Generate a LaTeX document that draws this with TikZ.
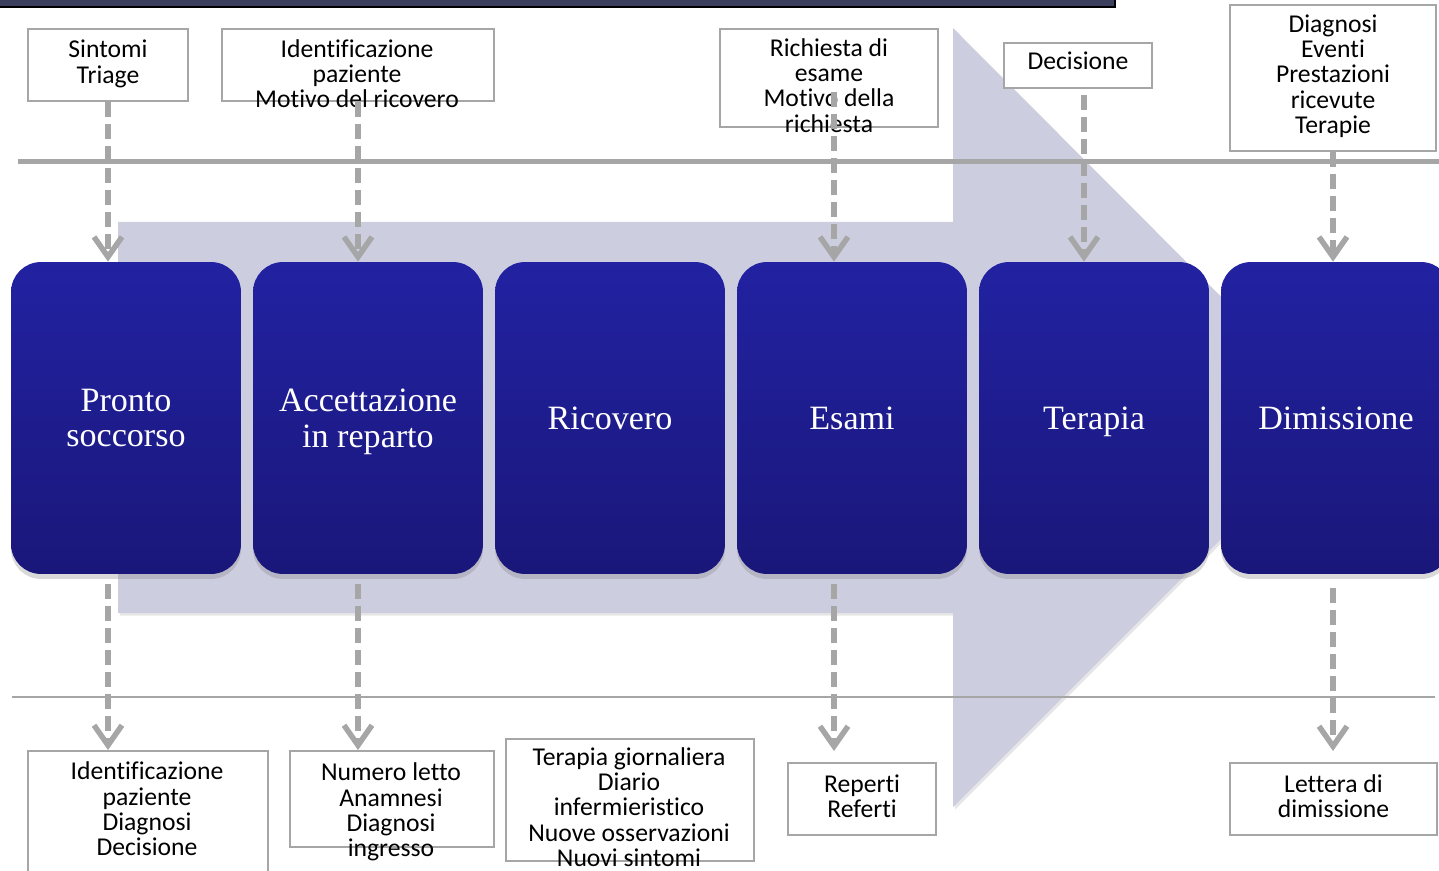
\documentclass[tikz,border=0pt]{standalone}
\usepackage{fontspec}
\usetikzlibrary{arrows.meta,shadows}
\newfontfamily\phasefont{Liberation Serif}
\newfontfamily\infofont[Ligatures={NoCommon,NoRare}]{Carlito}
\definecolor{bandgray}{RGB}{205,205,224}
\definecolor{phasetop}{RGB}{34,34,162}
\definecolor{phasebot}{RGB}{26,23,122}
\definecolor{linegray}{RGB}{166,166,166}
\definecolor{bardark}{RGB}{60,63,94}
\tikzstyle{phase}=[rounded corners=0.6cm, minimum width=4.6cm, minimum height=6.24cm, inner sep=0pt, top color=phasetop, bottom color=phasebot, text=white, align=center, font=\phasefont\fontsize{19.4}{20.2}\selectfont, drop shadow={shadow xshift=0cm, shadow yshift=-0.1cm, opacity=0.3}]
\tikzstyle{info}=[draw=linegray, line width=0.04cm, fill=white, inner sep=0pt]
\tikzstyle{infotext}=[align=center, inner sep=0pt, font=\infofont\fontsize{14.6}{14.4}\selectfont]
\tikzstyle{flow}=[draw=linegray, line width=0.11cm, dash pattern=on 0.3cm off 0.14cm, -{Straight Barb[length=0.4cm,width=0.56cm]}]
\begin{document}
\begin{tikzpicture}[x=0.02cm,y=-0.02cm]
\useasboundingbox (0,0) rectangle (1439,871);
\clip (0,0) rectangle (1439,871);
\fill[bardark, draw=black, line width=0.05cm] (-10,-10) rectangle (1115,7);
\path[fill=bandgray, drop shadow={shadow xshift=0.04cm, shadow yshift=-0.05cm, opacity=0.2}]
    (118,222) -- (953,222) -- (953,28) -- (1342,418) -- (953,807) -- (953,613) -- (118,613) -- cycle;
\draw[linegray, line width=0.1cm] (18,162) -- (1439,162);
\draw[linegray, line width=0.04cm] (12,697) -- (1435,697);
\path (126,418) node[phase] (pronto) {Pronto\\soccorso}
    ++(242,0) node[phase, text depth=0pt] (accett) {Accettazione\\in reparto}
    ++(242,0) node[phase] (ricovero) {Ricovero}
    ++(242,0) node[phase] (esami) {Esami}
    ++(242,0) node[phase, text depth=0pt] (terapia) {Terapia}
    ++(242,0) node[phase] (dimiss) {Dimissione};
\path (108,65) node[info, minimum width=3.2cm, minimum height=1.44cm] (sintomi) {}
    ++(0,-1) node[infotext] (sintomitxt) {Sintomi\\Triage}
    (358,65) node[info, minimum width=5.44cm, minimum height=1.44cm] (identa) {}
    ++(-1,8.5) node[infotext] (identatxt) {Identificazione\\paziente\\Motivo del ricovero}
    (829,78) node[info, minimum width=4.36cm, minimum height=1.96cm] (richiesta) {}
    ++(0,7.5) node[infotext] (richiestatxt) {Richiesta di\\esame\\Motivo della\\richiesta}
    (1078,65.5) node[info, minimum width=2.96cm, minimum height=0.9cm] (decis) {}
    ++(0,-4.5) node[infotext] (decistxt) {Decisione}
    (1333,78) node[info, minimum width=4.12cm, minimum height=2.92cm] (diagn) {}
    ++(0,-2) node[infotext] (diagntxt) {Diagnosi\\Eventi\\Prestazioni\\ricevute\\Terapie};
\path (148,826) node[info, minimum width=4.8cm, minimum height=3cm] (identb) {}
    ++(-1,-17) node[infotext] (identbtxt) {Identificazione\\paziente\\Diagnosi\\Decisione}
    (392,799) node[info, minimum width=4.08cm, minimum height=1.92cm] (numero) {}
    ++(-1,13) node[infotext] (numerotxt) {Numero letto\\Anamnesi\\Diagnosi\\ingresso}
    (630,800) node[info, minimum width=4.96cm, minimum height=2.44cm] (diario) {}
    ++(-1,7) node[infotext] (diariotxt) {Terapia giornaliera\\Diario\\infermieristico\\Nuove osservazioni\\Nuovi sintomi}
    (862,799) node[info, minimum width=2.96cm, minimum height=1.44cm] (reperti) {}
    ++(0,-3) node[infotext] (repertitxt) {Reperti\\Referti}
    (1333.5,799) node[info, minimum width=4.14cm, minimum height=1.44cm] (lettera) {}
    ++(0,-3) node[infotext] (letteratxt) {Lettera di\\dimissione};
\coordinate (richout) at (834,92);
\coordinate (decout) at (1084,95);
\draw[flow] (sintomi.south) -- (sintomi.south |- pronto.north);
\draw[flow] (identa.south) -- (identa.south |- accett.north);
\draw[flow] (richout) -- (richout |- esami.north);
\draw[flow] (decout) -- (decout |- terapia.north);
\draw[flow] (diagn.south) -- (diagn.south |- dimiss.north);
\draw[flow] ([yshift=-0.2cm]pronto.south -| sintomi.south) -- (sintomi.south |- identb.north);
\draw[flow] ([yshift=-0.2cm]accett.south -| identa.south) -- (identa.south |- numero.north);
\draw[flow] ([yshift=-0.2cm]esami.south -| richout) -- ([yshift=0.22cm]richout |- reperti.north);
\draw[flow] ([yshift=-0.28cm]dimiss.south -| diagn.south) -- ([yshift=0.22cm]diagn.south |- lettera.north);
\end{tikzpicture}
\end{document}
